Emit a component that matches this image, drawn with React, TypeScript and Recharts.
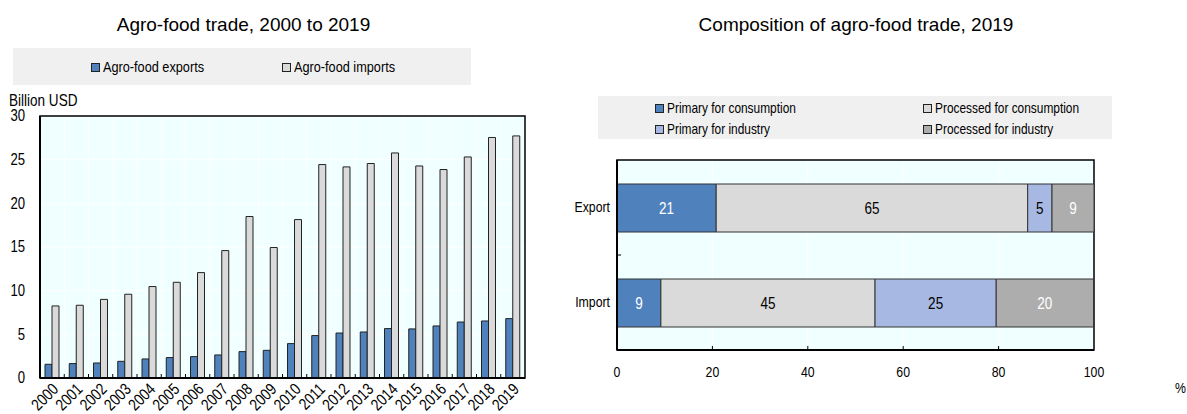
import React from 'react';
import {
  BarChart, Bar, XAxis, YAxis, CartesianGrid, ReferenceArea, LabelList,
} from 'recharts';

const years = ['2000','2001','2002','2003','2004','2005','2006','2007','2008','2009','2010','2011','2012','2013','2014','2015','2016','2017','2018','2019'];
const agroExports = [1.57,1.65,1.72,1.91,2.18,2.34,2.45,2.64,3.02,3.17,3.94,4.86,5.15,5.27,5.66,5.62,5.96,6.41,6.53,6.80];
const agroImports = [8.25,8.33,9.0,9.59,10.47,10.96,12.07,14.59,18.49,14.94,18.14,24.44,24.17,24.56,25.77,24.28,23.87,25.31,27.54,27.72];
const leftTicks = [0,5,10,15,20,25,30];

const flows = ['Export','Import'];
const primaryConsumption = [20.8, 9.2];
const processedConsumption = [65.3, 44.9];
const primaryIndustry = [5.1, 25.4];
const processedIndustry = [8.8, 20.4];
const rightTicks = [0,20,40,60,80,100];

const tradeData = years.map((y, i) => ({ year: y, exp: agroExports[i], imp: agroImports[i] }));
const compData = flows.map((f, i) => ({
  name: f,
  pc: primaryConsumption[i],
  prc: processedConsumption[i],
  pi: primaryIndustry[i],
  pri: processedIndustry[i],
}));

const FONT = "'Liberation Sans', Arial, sans-serif";
const SX = 0.82; // horizontal condensing to mimic a narrow face
const BLUE = '#4F81BD';
const LGRAY = '#DADADA';
const LBLUE = '#A7B9E3';
const DGRAY = '#ADADAD';
const PLOTBG = '#F0FFFF';
const LEGBG = '#F0F0F0';

const leftSeries = [
  { key: 'exp', name: 'Agro-food exports', color: BLUE },
  { key: 'imp', name: 'Agro-food imports', color: LGRAY },
];
const rightSeries = [
  { key: 'pc', name: 'Primary for consumption', color: BLUE, label: '#fff' },
  { key: 'prc', name: 'Processed for consumption', color: LGRAY, label: '#000' },
  { key: 'pi', name: 'Primary for industry', color: LBLUE, label: '#000' },
  { key: 'pri', name: 'Processed for industry', color: DGRAY, label: '#fff' },
];

const NarrowSpan = ({ size, children }: { size: number; children: React.ReactNode }) => (
  <span style={{ display: 'inline-block', fontFamily: FONT, fontSize: size, color: '#000', lineHeight: '18px', transform: `scaleX(${SX})`, transformOrigin: 'left center', whiteSpace: 'nowrap' }}>{children}</span>
);

const LegendItem = ({ x, y, color, text, size }: { x: number; y: number; color: string; text: string; size: number }) => (
  <div style={{ position: 'absolute', left: x, top: y - 9, height: 18, display: 'flex', alignItems: 'center', whiteSpace: 'nowrap' }}>
    <div style={{ width: 7, height: 7, background: color, border: '1px solid #222', marginRight: 3 }} />
    <NarrowSpan size={size}>{text}</NarrowSpan>
  </div>
);

const NText = ({ x, y, anchor, size, fill = '#000', rotate = 0, children }: any) => (
  <text x={0} y={0} textAnchor={anchor} dominantBaseline="central"
    transform={`translate(${x} ${y}) rotate(${rotate}) scale(${SX} 1)`}
    style={{ fontFamily: FONT, fontSize: size, fill }}>{children}</text>
);

const YearTick = (props: any) => {
  const { x, y, payload, index } = props;
  const bw = 485 / 20;
  return (
    <g>
      {index > 0 && <line x1={x - bw / 2} x2={x - bw / 2} y1={y} y2={y - 4} stroke="#000" strokeWidth={1} />}
      <NText x={x + 3} y={y + 8} anchor="end" size={16.5} rotate={-45}>{payload.value}</NText>
    </g>
  );
};

const LeftYTick = (props: any) => {
  const { x, y, payload } = props;
  return <NText x={x - 15} y={y} anchor="end" size={16}>{payload.value}</NText>;
};

const FlowTick = (props: any) => {
  const { x, y, payload, index } = props;
  return (
    <g>
      {index === 0 && <line x1={x} x2={x + 4} y1={y + 47.5} y2={y + 47.5} stroke="#000" strokeWidth={1} />}
      <NText x={x - 7} y={y} anchor="end" size={15}>{payload.value}</NText>
    </g>
  );
};

const PctTick = (props: any) => {
  const { x, y, payload } = props;
  const v = payload.value;
  return (
    <g>
      {v > 0 && v < 100 && <line x1={x} x2={x} y1={y} y2={y - 4} stroke="#000" strokeWidth={1} />}
      <NText x={x} y={y + 22} anchor="middle" size={15}>{v}</NText>
    </g>
  );
};

const makeSegLabel = (color: string) => (props: any) => {
  const { x, y, width, height, value } = props;
  return (
    <NText x={Number(x) + Number(width) / 2} y={Number(y) + Number(height) / 2} anchor="middle" size={16.5} fill={color}>
      {Math.round(Number(value))}
    </NText>
  );
};

export default function App() {
  return (
    <div style={{ position: 'absolute', left: 0, top: 0, width: 1187, height: 414, background: '#fff', overflow: 'hidden' }}>
      {/* Left chart */}
      <div style={{ position: 'absolute', left: 0, top: 0, width: 590, height: 414 }}>
        <BarChart width={590} height={414} data={tradeData}
          margin={{ top: 116, right: 65, bottom: 0, left: 8 }} barGap={0} barSize={7}>
          <CartesianGrid fill={PLOTBG} stroke="#fff" strokeWidth={1}
            verticalCoordinatesGenerator={({ offset }: any) =>
              years.slice(1).map((_, i) => offset.left + (i + 1) * (offset.width / years.length))} />
          <XAxis dataKey="year" tickLine={false} tickSize={0} tickMargin={0} interval={0}
            axisLine={{ stroke: '#000', strokeWidth: 2 }} height={36} tick={<YearTick />} />
          <YAxis domain={[0, 30]} ticks={leftTicks} width={32} tickLine={false} tickSize={0} tickMargin={0}
            axisLine={{ stroke: '#000', strokeWidth: 2 }} tick={<LeftYTick />} />
          <ReferenceArea y1={0} y2={30} fill="none" fillOpacity={0} stroke="#000" strokeWidth={1.5} ifOverflow="visible" />
          {leftSeries.map((s) => (
            <Bar key={s.key} dataKey={s.key} name={s.name} fill={s.color} stroke="#222" strokeWidth={1} isAnimationActive={false} />
          ))}
        </BarChart>
        <div style={{ position: 'absolute', left: 0, top: 13, width: 487, textAlign: 'center', fontFamily: FONT, fontSize: 19, lineHeight: '24px', color: '#000' }}>
          Agro-food trade, 2000 to 2019
        </div>
        <div style={{ position: 'absolute', left: 13, top: 48, width: 458, height: 37, background: LEGBG }} />
        <LegendItem x={91} y={67} color={leftSeries[0].color} text={leftSeries[0].name} size={15.5} />
        <LegendItem x={282} y={67} color={leftSeries[1].color} text={leftSeries[1].name} size={15.5} />
        <div style={{ position: 'absolute', left: 9, top: 91 }}><NarrowSpan size={16.5}>Billion USD</NarrowSpan></div>
      </div>

      {/* Right chart */}
      <div style={{ position: 'absolute', left: 560, top: 0, width: 627, height: 414 }}>
        <BarChart width={627} height={414} data={compData} layout="vertical"
          margin={{ top: 160, right: 93, bottom: 0, left: 0 }} barSize={48}>
          <CartesianGrid fill={PLOTBG} stroke="#fff" strokeWidth={1} horizontal={false} />
          <XAxis type="number" domain={[0, 100]} ticks={rightTicks} tickLine={false} tickSize={0} tickMargin={0}
            axisLine={{ stroke: '#000', strokeWidth: 2 }} height={64} tick={<PctTick />} />
          <YAxis type="category" dataKey="name" width={57} tickLine={false} tickSize={0} tickMargin={0}
            axisLine={{ stroke: '#000', strokeWidth: 2 }} tick={<FlowTick />} />
          <ReferenceArea x1={0} x2={100} fill="none" fillOpacity={0} stroke="#000" strokeWidth={1.5} ifOverflow="visible" />
          {rightSeries.map((s) => (
            <Bar key={s.key} dataKey={s.key} name={s.name} stackId="a" fill={s.color} stroke="#333" strokeWidth={1} isAnimationActive={false}>
              <LabelList dataKey={s.key} content={makeSegLabel(s.label)} />
            </Bar>
          ))}
        </BarChart>
        <div style={{ position: 'absolute', left: 46, top: 13, width: 500, textAlign: 'center', fontFamily: FONT, fontSize: 19, lineHeight: '24px', color: '#000' }}>
          Composition of agro-food trade, 2019
        </div>
        <div style={{ position: 'absolute', left: 38, top: 96, width: 514, height: 43, background: LEGBG }} />
        <LegendItem x={95} y={108} color={rightSeries[0].color} text={rightSeries[0].name} size={14.5} />
        <LegendItem x={363} y={108} color={rightSeries[1].color} text={rightSeries[1].name} size={14.5} />
        <LegendItem x={95} y={129} color={rightSeries[2].color} text={rightSeries[2].name} size={14.5} />
        <LegendItem x={363} y={129} color={rightSeries[3].color} text={rightSeries[3].name} size={14.5} />
        <div style={{ position: 'absolute', left: 615, top: 379 }}><NarrowSpan size={15}>%</NarrowSpan></div>
      </div>
    </div>
  );
}
